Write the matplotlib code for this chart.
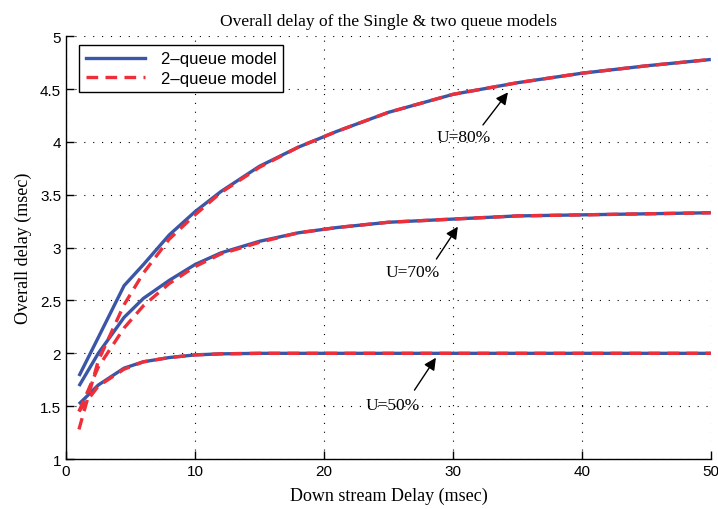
import matplotlib

matplotlib.use("Agg")

import matplotlib.pyplot as plt

# down stream delay samples (msec)
delay = [1, 2.5, 4.5, 6, 8, 10, 12, 15, 18, 21, 25, 30, 35, 40, 45, 50]

# overall delay, solid curves
blue_u80 = [1.785, 2.15, 2.64, 2.84, 3.12, 3.34, 3.53, 3.77, 3.95, 4.10, 4.28, 4.45, 4.56, 4.65, 4.72, 4.78]
blue_u70 = [1.69, 2.00, 2.34, 2.52, 2.69, 2.84, 2.95, 3.06, 3.14, 3.19, 3.24, 3.27, 3.30, 3.31, 3.32, 3.33]
blue_u50 = [1.52, 1.70, 1.86, 1.92, 1.96, 1.985, 1.995, 2.0, 2.0, 2.0, 2.0, 2.0, 2.0, 2.0, 2.0, 2.0]

# overall delay, dashed curves
red_u80 = [1.28, 1.93, 2.46, 2.76, 3.08, 3.31, 3.52, 3.76, 3.95, 4.10, 4.28, 4.45, 4.56, 4.65, 4.72, 4.78]
red_u70 = [1.45, 1.87, 2.24, 2.45, 2.66, 2.82, 2.94, 3.05, 3.14, 3.19, 3.24, 3.27, 3.30, 3.31, 3.32, 3.33]
red_u50 = [1.45, 1.69, 1.85, 1.92, 1.96, 1.985, 1.995, 2.0, 2.0, 2.0, 2.0, 2.0, 2.0, 2.0, 2.0, 2.0]

legend_labels = ["2\u2013queue model", "2\u2013queue model"]

# (label, text position, arrow tail, arrow tip)
notes = [
    ("U=80%", (30.8, 4.05), (32.2, 4.14), (34.4, 4.49)),
    ("U=70%", (26.9, 2.77), (28.6, 2.87), (30.5, 3.22)),
    ("U=50%", (25.3, 1.51), (26.9, 1.63), (28.8, 1.98)),
]

BLUE = "#3b56a6"
RED = "#ee2f3a"
SERIF = "Liberation Serif"
SANS = "Liberation Sans"

fig = plt.figure(figsize=(7.18, 5.10), dpi=100)
ax = fig.add_axes([0.092, 0.098, 0.898, 0.829])

for ys in (blue_u80, blue_u70, blue_u50):
    ax.plot(delay, ys, color=BLUE, lw=2.4, solid_capstyle="butt")
for ys in (red_u80, red_u70, red_u50):
    ax.plot(delay, ys, color=RED, lw=2.4, ls=(0, (3.5, 2.2)))

ax.set_xlim(0, 50)
ax.set_ylim(1, 5)
ax.set_xticks(range(0, 51, 10))
ax.set_yticks([1, 1.5, 2, 2.5, 3, 3.5, 4, 4.5, 5])
ax.set_yticklabels(["1", "1.5", "2", "2.5", "3", "3.5", "4", "4.5", "5"])
ax.tick_params(direction="in", length=6, width=1, labelsize=11, top=False, right=False)
for lab in ax.get_xticklabels() + ax.get_yticklabels():
    lab.set_fontfamily(SANS)
ax.spines["top"].set_visible(False)
ax.spines["right"].set_visible(False)
ax.spines["left"].set_linewidth(1.0)
ax.spines["bottom"].set_linewidth(1.0)
ax.grid(True, ls=(0, (1, 7)), color="black", lw=0.8)

ax.set_title("Overall delay of the Single & two queue models", fontfamily=SERIF, fontsize=12.5, pad=8)
ax.set_xlabel("Down stream Delay (msec)", fontfamily=SERIF, fontsize=13, labelpad=6)
ax.set_ylabel("Overall delay (msec)", fontfamily=SERIF, fontsize=13, labelpad=6)

handles = [
    plt.Line2D([], [], color=BLUE, lw=2.4),
    plt.Line2D([], [], color=RED, lw=2.4, ls=(0, (3.5, 2.2))),
]
leg = ax.legend(handles, legend_labels, loc="upper left", bbox_to_anchor=(0.02, 0.98),
                prop={"family": SANS, "size": 12}, fancybox=False, framealpha=1,
                edgecolor="black", handlelength=3.55, borderpad=0.4, labelspacing=0.25,
                handletextpad=0.95, borderaxespad=0.0)
leg.get_frame().set_linewidth(1.0)

for text, pos, tail, tip in notes:
    ax.text(pos[0], pos[1], text, fontfamily=SERIF, fontsize=12.5, ha="center", va="center")
    ax.annotate("", xy=tip, xytext=tail,
                arrowprops=dict(arrowstyle="-|>", color="black", lw=1.0, mutation_scale=18))

fig.savefig("out.png", dpi=100)
